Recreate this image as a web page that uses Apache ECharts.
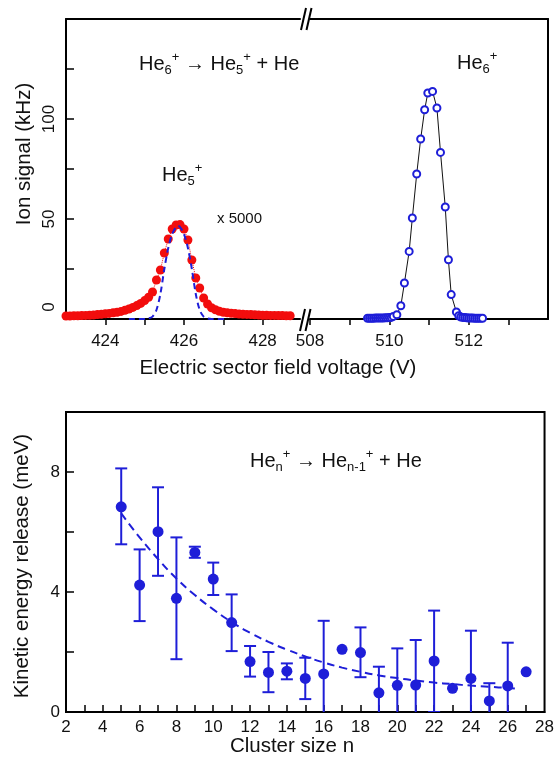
<!DOCTYPE html>
<html>
<head>
<meta charset="utf-8">
<script src="https://cdn.jsdelivr.net/npm/echarts@6/dist/echarts.min.js"></script>
<style>
  html, body { margin: 0; padding: 0; background: #fff; }
  #chart { width: 557px; height: 758px; }
</style>
</head>
<body>
<div id="chart"></div>
<script>
// ---- data ----
// He5+ fragment signal (x 5000), red dots
const he5Voltage = [423.0, 423.1, 423.2, 423.3, 423.4, 423.5, 423.6, 423.7, 423.8, 423.9,
  424.0, 424.1, 424.2, 424.3, 424.4, 424.5, 424.6, 424.7, 424.8, 424.9,
  425.0, 425.1, 425.2, 425.3, 425.4, 425.5, 425.6, 425.7, 425.8, 425.9,
  426.0, 426.1, 426.2, 426.3, 426.4, 426.5, 426.6, 426.7, 426.8, 426.9,
  427.0, 427.1, 427.2, 427.3, 427.4, 427.5, 427.6, 427.7, 427.8, 427.9,
  428.0, 428.1, 428.2, 428.3, 428.4, 428.5, 428.6, 428.7]
const he5Signal = [1.5, 1.5, 1.6, 1.6, 1.7, 1.8, 1.9, 2.0, 2.2, 2.4,
  2.6, 2.8, 3.1, 3.4, 3.8, 4.4, 5.0, 5.8, 6.7, 7.8,
  9.2, 10.9, 13.5, 19.5, 24.5, 33.0, 40.0, 45.0, 47.0, 47.2,
  45.0, 39.5, 29.5, 20.5, 15.5, 10.5, 7.5, 5.6, 4.6, 3.9,
  3.4, 3.1, 2.9, 2.7, 2.5, 2.4, 2.3, 2.2, 2.1, 2.0,
  1.9, 1.9, 1.8, 1.8, 1.7, 1.7, 1.6, 1.6]

// parent-beam profile shifted onto the fragment peak (blue dashed)
const profileVoltage = [424.6, 425.0, 425.1, 425.2, 425.3, 425.4, 425.5, 425.6, 425.7, 425.8, 425.85,
  425.9, 426.0, 426.1, 426.2, 426.3, 426.4, 426.5, 426.6, 426.7, 427.1]
const profileSignal = [0, 0, 0.3, 1.2, 4.5, 12.5, 25, 35.5, 42.5, 46, 46.5,
  46, 42.5, 35.5, 25, 12.5, 4.5, 1.2, 0.3, 0, 0]

// He6+ parent signal, open blue circles
const he6Voltage = [509.45, 509.5, 509.55, 509.6, 509.65, 509.7, 509.75, 509.8, 509.85, 509.9,
  509.95, 510.0, 510.05, 510.1, 510.19, 510.29, 510.38, 510.5, 510.58, 510.69,
  510.79, 510.89, 510.97, 511.09, 511.2, 511.29, 511.41, 511.49, 511.56, 511.69,
  511.75, 511.8, 511.85, 511.9, 511.95, 512.0, 512.05, 512.1, 512.15, 512.2,
  512.25, 512.3, 512.35]
const he6Signal = [0.4, 0.4, 0.4, 0.4, 0.5, 0.5, 0.5, 0.5, 0.5, 0.6,
  0.6, 0.7, 0.8, 1.3, 2.1, 6.6, 18, 33.8, 50.5, 72.5,
  90, 104.6, 113, 113.8, 105.5, 83.3, 56, 29.6, 12.2, 3.5,
  1.6, 1.0, 0.8, 0.7, 0.6, 0.5, 0.5, 0.5, 0.4, 0.4,
  0.4, 0.4, 0.4]

// kinetic energy release vs cluster size
const clusterSize = [5, 6, 7, 8, 9, 10, 11, 12, 13, 14, 15, 16, 17, 18, 19, 20, 21, 22, 23, 24, 25, 26, 27]
const kerValue = [6.84, 4.23, 6.01, 3.79, 5.32, 4.43, 2.98, 1.68, 1.32, 1.36, 1.12, 1.27,
  2.09, 1.98, 0.64, 0.89, 0.90, 1.70, 0.79, 1.12, 0.37, 0.87, 1.34]
const kerLow = [5.59, 3.03, 4.54, 1.76, 5.14, 3.90, 2.03, 1.18, 0.66, 1.09, 0.43, -0.5,
  null, 1.16, -0.23, -0.34, -0.6, 0.0, null, -0.47, -0.22, -0.57, null]
const kerHigh = [8.12, 5.42, 7.49, 5.82, 5.51, 4.98, 3.92, 2.20, 2.00, 1.62, 1.81, 3.04,
  null, 2.82, 1.51, 2.12, 2.40, 3.38, null, 2.71, 0.96, 2.31, null]

// dashed fit through the KER points
const fitSize = [5, 6, 7, 8, 9, 10, 11, 12, 13, 14, 15, 16, 17, 18, 19, 20, 21, 22, 23, 24, 25, 26, 26.5]
const fitValue = [6.62, 5.82, 5.1, 4.45, 3.9, 3.42, 3.0, 2.64, 2.34, 2.08, 1.85, 1.65,
  1.48, 1.34, 1.22, 1.13, 1.05, 0.98, 0.93, 0.88, 0.84, 0.8, 0.78]

// tick / label positions
const leftTicks = [424, 425, 426, 427, 428]
const leftLabels = [424, 426, 428]
const rightTicks = [508, 509, 510, 511, 512, 513]
const rightLabels = [508, 510, 512]
const signalTicks = [25, 50, 75, 100, 125]
const signalLabels = [0, 50, 100]
const sizeTicks = [3, 4, 5, 6, 7, 8, 9, 10, 11, 12, 13, 14, 15, 16, 17, 18, 19, 20, 21, 22, 23, 24, 25, 26, 27]
const sizeLabels = [2, 4, 6, 8, 10, 12, 14, 16, 18, 20, 22, 24, 26, 28]
const kerTicks = [2, 4, 6, 8]
const kerLabels = [0, 4, 8]

// ---- chart ----
const BLUE = '#1e1ed8'
const RED = '#f20d0d'
const FONT = '"Liberation Sans", Arial, Helvetica, sans-serif'

const zip = (a, b) => a.map((v, i) => [v, b[i]])

const lineOnly = (extra) => Object.assign({
  type: 'value',
  axisLine: { show: true, onZero: false, lineStyle: { color: '#000', width: 2 } },
  axisTick: { show: false },
  axisLabel: { show: false },
  splitLine: { show: false }
}, extra)

const tickLabel = { color: '#111', fontSize: 17, fontFamily: FONT }

const richText = {
  b: { fontSize: 20, lineHeight: 26, fontFamily: FONT, fill: '#111' },
  sub: { fontSize: 13, lineHeight: 12, fontFamily: FONT, fill: '#111', verticalAlign: 'bottom' },
  sup: { fontSize: 13, lineHeight: 12, fontFamily: FONT, fill: '#111', verticalAlign: 'top' }
}

function label(x, y, text) {
  return { type: 'text', x, y, z: 100,
    style: { text, rich: richText, align: 'left', verticalAlign: 'middle' } }
}
function plain(x, y, text, size, rot) {
  return { type: 'text', x, y, z: 100, rotation: rot || 0,
    style: { text, fontSize: size, fontFamily: FONT, fill: '#111', align: 'center', verticalAlign: 'middle' } }
}
function slash(x, y) {
  return { type: 'line', z: 100,
    shape: { x1: x, y1: y + 11, x2: x + 5, y2: y - 11 },
    style: { stroke: '#000', lineWidth: 2 } }
}

const chart = echarts.init(document.getElementById('chart'))

chart.setOption({
  animation: false,
  backgroundColor: '#fff',
  grid: [
    { left: 66, top: 19, width: 234, height: 300 },
    { left: 310, top: 19, width: 238, height: 300 },
    { left: 66, top: 412, width: 482, height: 300, show: true, borderColor: '#000', borderWidth: 2 }
  ],
  xAxis: [
    lineOnly({
      gridIndex: 0, min: 423, max: 428.95, position: 'bottom',
      axisTick: { show: true, inside: false, length: 6, customValues: leftTicks, lineStyle: { color: '#000', width: 1.5 } },
      axisLabel: Object.assign({ show: true, margin: 14, customValues: leftLabels }, tickLabel)
    }),
    lineOnly({ gridIndex: 0, min: 423, max: 428.95, position: 'top' }),
    lineOnly({
      gridIndex: 1, min: 508, max: 514, position: 'bottom',
      axisTick: { show: true, inside: false, length: 6, customValues: rightTicks, lineStyle: { color: '#000', width: 1.5 } },
      axisLabel: Object.assign({ show: true, margin: 14, customValues: rightLabels }, tickLabel)
    }),
    lineOnly({ gridIndex: 1, min: 508, max: 514, position: 'top' }),
    lineOnly({
      gridIndex: 2, min: 2, max: 28, position: 'bottom',
      axisTick: { show: true, inside: true, length: 7, customValues: sizeTicks, lineStyle: { color: '#000', width: 1.5 } },
      axisLabel: Object.assign({ show: true, margin: 7, customValues: sizeLabels }, tickLabel)
    })
  ],
  yAxis: [
    lineOnly({
      gridIndex: 0, min: 0, max: 150, position: 'left',
      axisTick: { show: true, inside: true, length: 8, customValues: signalTicks, lineStyle: { color: '#000', width: 1.5 } },
      axisLabel: Object.assign({
        show: true, margin: 8, rotate: 90, customValues: signalLabels,
        // the zero label sits a little above the axis in the original
        formatter: v => (v === 0 ? '{z|0}' : String(v)),
        rich: { z: { fontSize: 17, fontFamily: FONT, color: '#111', padding: [0, 0, 0, 24] } }
      }, tickLabel)
    }),
    lineOnly({ gridIndex: 1, min: 0, max: 150, position: 'right' }),
    lineOnly({
      gridIndex: 2, min: 0, max: 10, position: 'left',
      axisTick: { show: true, inside: true, length: 8, customValues: kerTicks, lineStyle: { color: '#000', width: 1.5 } },
      axisLabel: Object.assign({ show: true, margin: 6, customValues: kerLabels }, tickLabel)
    })
  ],
  series: [
    {
      type: 'line', xAxisIndex: 0, yAxisIndex: 0, z: 2,
      data: zip(he5Voltage, he5Signal),
      symbol: 'circle', symbolSize: 9, showAllSymbol: true,
      itemStyle: { color: RED },
      lineStyle: { color: RED, width: 1, type: 'dotted' }
    },
    {
      type: 'line', xAxisIndex: 0, yAxisIndex: 0, z: 3,
      data: zip(profileVoltage, profileSignal),
      showSymbol: false, smooth: 0.3,
      lineStyle: { color: BLUE, width: 2, type: [6, 4] }
    },
    {
      type: 'line', xAxisIndex: 2, yAxisIndex: 1, z: 2,
      data: zip(he6Voltage, he6Signal),
      symbol: 'circle', symbolSize: 7, showAllSymbol: true,
      itemStyle: { color: '#fff', borderColor: BLUE, borderWidth: 2 },
      lineStyle: { color: '#111', width: 1 }
    },
    {
      type: 'custom', xAxisIndex: 4, yAxisIndex: 2, z: 2, clip: true,
      data: clusterSize.map((n, i) => [n, kerLow[i], kerHigh[i]]).filter(d => d[1] !== null),
      renderItem(params, api) {
        const top = api.coord([api.value(0), api.value(2)])
        const bot = api.coord([api.value(0), api.value(1)])
        const w = 6
        const st = { stroke: BLUE, lineWidth: 2 }
        return { type: 'group', children: [
          { type: 'line', shape: { x1: top[0], y1: top[1], x2: bot[0], y2: bot[1] }, style: st },
          { type: 'line', shape: { x1: top[0] - w, y1: top[1], x2: top[0] + w, y2: top[1] }, style: st },
          { type: 'line', shape: { x1: bot[0] - w, y1: bot[1], x2: bot[0] + w, y2: bot[1] }, style: st }
        ] }
      }
    },
    {
      type: 'line', xAxisIndex: 4, yAxisIndex: 2, z: 3,
      data: zip(fitSize, fitValue),
      showSymbol: false, smooth: true,
      lineStyle: { color: BLUE, width: 2, type: [8, 5] }
    },
    {
      type: 'scatter', xAxisIndex: 4, yAxisIndex: 2, z: 4,
      data: zip(clusterSize, kerValue),
      symbol: 'circle', symbolSize: 11,
      itemStyle: { color: BLUE, opacity: 1 }
    }
  ],
  graphic: [
    // axis break marks
    slash(301, 19), slash(306.5, 19),
    slash(300, 320), slash(305.5, 320),
    // annotations
    label(139, 64, '{b|He}{sub|6}{sup|+}{b| → He}{sub|5}{sup|+}{b| + He}'),
    label(457, 63, '{b|He}{sub|6}{sup|+}'),
    label(162, 175, '{b|He}{sub|5}{sup|+}'),
    { type: 'text', x: 217, y: 219, z: 100,
      style: { text: 'x 5000', fontSize: 15, fontFamily: FONT, fill: '#111', align: 'left', verticalAlign: 'middle' } },
    label(250, 461, '{b|He}{sub|n}{sup|+}{b| → He}{sub|n-1}{sup|+}{b| + He}'),
    // axis titles
    plain(278, 368, 'Electric sector field voltage (V)', 20.5),
    plain(24, 154, 'Ion signal (kHz)', 20.5, Math.PI / 2),
    plain(292, 746, 'Cluster size n', 20.5),
    plain(22, 566, 'Kinetic energy release (meV)', 20.5, Math.PI / 2)
  ]
})
</script>
</body>
</html>
